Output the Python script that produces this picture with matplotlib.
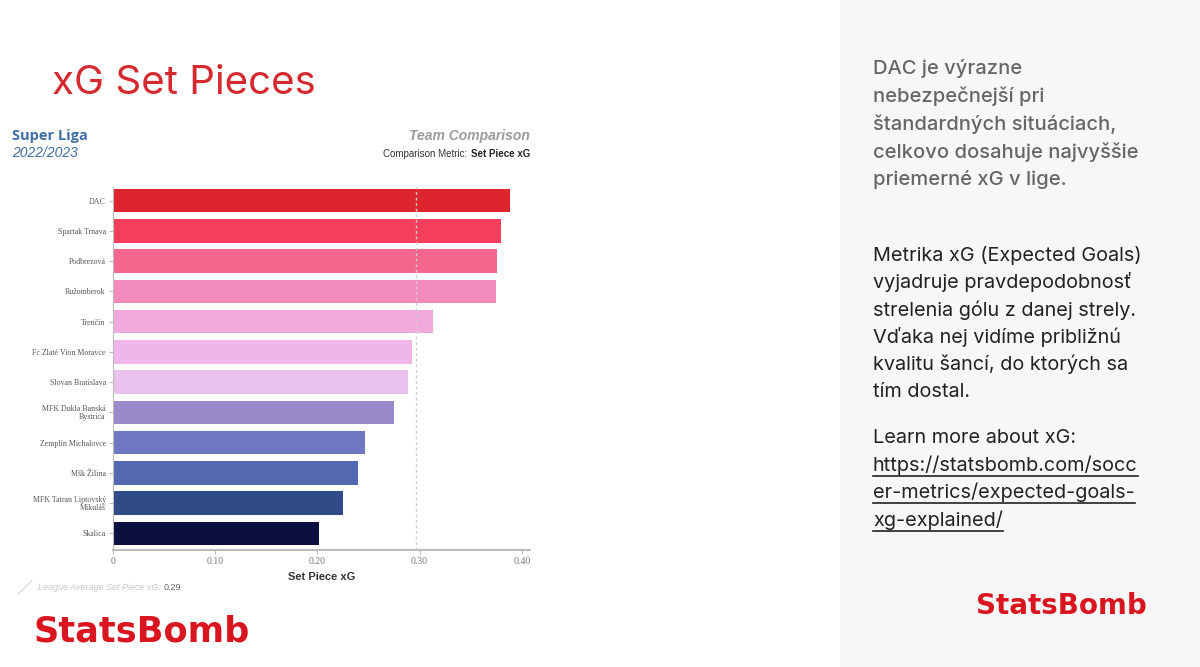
import matplotlib.pyplot as plt
from matplotlib.lines import Line2D
from matplotlib.patches import Rectangle

teams = ['DAC', 'Spartak Trnava', 'Podbrezová', 'Ružomberok', 'Trenčín',
         'Fc Zlaté Vion Moravce', 'Slovan Bratislava',
         'MFK Dukla Banská\nBystrica', 'Zemplín Michalovce', 'Mšk Žilina',
         'MFK Tatran Liptovský\nMikuláš', 'Skalica']
set_piece_xg = [0.388, 0.380, 0.376, 0.375, 0.313, 0.293, 0.289, 0.275,
                0.247, 0.240, 0.225, 0.202]
bar_colors = ['#dc252d', '#f53e5c', '#f5668f', '#f38bbd', '#f0a9dd', '#efb7e9',
              '#e8c2ec', '#9a89cb', '#6e77c1', '#5468b1', '#2f4b88', '#0b103f']
league_avg = 0.297
xticks = [0, 0.10, 0.20, 0.30, 0.40]
xtick_labels = ['0', '0.10', '0.20', '0.30', '0.40']

W, H = 1200, 667
fig = plt.figure(figsize=(12, 6.67), dpi=100)
fig.patch.set_facecolor('white')


def fx(x):
    return x / W


def fy(y):
    return 1 - y / H


# right panel background
fig.patches.append(Rectangle((fx(840), 0), 1 - fx(840), 1, transform=fig.transFigure,
                             facecolor='#f7f7f7', edgecolor='none', zorder=0))

# title
fig.text(fx(52), fy(83), 'xG Set Pieces', color='#d42a2f', fontsize=29,
         family='Inter', va='center', ha='left')

# chart header
fig.text(fx(12), fy(136), 'Super Liga', color='#3f6fa6', fontsize=10.5,
         family='Open Sans', weight='bold', va='center')
fig.text(fx(12), fy(153), '2022/2023', color='#3f6fa6', fontsize=10,
         family='Liberation Sans', style='italic', va='center')
fig.text(fx(530), fy(136), 'Team Comparison', color='#9a9a9a', fontsize=10,
         family='Liberation Sans', weight='bold', style='italic', va='center', ha='right')
t_bold = fig.text(fx(530), fy(154), 'Set Piece xG', color='#222222', fontsize=7,
                  family='Liberation Sans', weight='bold', va='center', ha='right')
fig.canvas.draw()
bb = t_bold.get_window_extent()
fig.text(bb.x0 / W - 0.003, fy(154), 'Comparison Metric:', color='#333333', fontsize=7,
         family='Liberation Sans', va='center', ha='right')

# bar chart
ax = fig.add_axes([fx(112.7), fy(550), fx(530) - fx(112.7), (550 - 187) / H])
ypos = list(range(len(teams)))
ax.barh(ypos, set_piece_xg, height=0.77, color=bar_colors, zorder=2)
ax.axvline(league_avg, color='#cccccc', linestyle=(0, (2, 2)), linewidth=1, zorder=3)
ax.set_xlim(0, 0.408)
ax.set_ylim(len(teams) - 0.45, -0.45)
ax.set_yticks(ypos)
ax.set_yticklabels(teams, family='Liberation Serif', fontsize=5.7, color='#555555',
                   linespacing=0.9)
ax.set_xticks(xticks)
ax.set_xticklabels(xtick_labels, family='Liberation Serif', fontsize=7, color='#777777')
for s in ['top', 'right']:
    ax.spines[s].set_visible(False)
ax.spines['left'].set_color('#bbbbbb')
ax.spines['bottom'].set_color('#bbbbbb')
ax.spines['bottom'].set_linewidth(1.5)
ax.tick_params(axis='y', length=3, color='#bbbbbb', pad=2)
ax.tick_params(axis='x', length=3, color='#bbbbbb', pad=2)
ax.set_xlabel('Set Piece xG', family='Liberation Sans', weight='bold', fontsize=8,
              color='#333333', labelpad=4)

# league average note
fig.lines.append(Line2D([fx(18), fx(32)], [fy(594), fy(581)], color='#dddddd',
                        linewidth=1, transform=fig.transFigure))
t_la = fig.text(fx(38), fy(588), 'League Average Set Piece xG:', color='#c8c8c8',
                fontsize=6.5, family='Liberation Sans', style='italic', va='center')
fig.canvas.draw()
bb = t_la.get_window_extent()
fig.text(bb.x1 / W + 0.002, fy(588), '%.2f' % (int(league_avg * 100) / 100),
         color='#666666', fontsize=6.5, family='Liberation Sans', va='center')

# logos
fig.text(fx(33), fy(632), 'StatsBomb', color='#d9151f', fontsize=25.3,
         family='DejaVu Sans', weight='bold', va='center')
fig.text(fx(976), fy(606), 'StatsBomb', color='#d9151f', fontsize=20,
         family='DejaVu Sans', weight='bold', va='center')

# right side text
para1 = ['DAC je výrazne', 'nebezpečnejší pri', 'štandardných situáciach,',
         'celkovo dosahuje najvyššie', 'priemerné xG v lige.']
for i, line in enumerate(para1):
    fig.text(fx(873), fy(68 + i * 28), line, color='#666666', fontsize=14.5,
             family='Inter', va='center', weight='medium')

para2 = ['Metrika xG (Expected Goals)', 'vyjadruje pravdepodobnosť',
         'strelenia gólu z danej strely.', 'Vďaka nej vidíme približnú',
         'kvalitu šancí, do ktorých sa', 'tím dostal.']
for i, line in enumerate(para2):
    fig.text(fx(873), fy(255 + i * 27.4), line, color='#222222', fontsize=14.3,
             family='Inter', va='center')

fig.text(fx(873), fy(438), 'Learn more about xG:', color='#222222', fontsize=14.3,
         family='Inter', va='center')
links = ['https://statsbomb.com/socc', 'er-metrics/expected-goals-', 'xg-explained/']
link_texts = []
for i, line in enumerate(links):
    link_texts.append(fig.text(fx(873), fy(465 + i * 27.4), line, color='#222222',
                               fontsize=14.3, family='Inter', va='center'))
fig.canvas.draw()
for t in link_texts:
    bb = t.get_window_extent()
    y = (bb.y0 - 1) / H
    fig.lines.append(Line2D([bb.x0 / W, bb.x1 / W], [y, y], color='#222222',
                            linewidth=1.2, transform=fig.transFigure))

fig.savefig('out.png', dpi=100)
